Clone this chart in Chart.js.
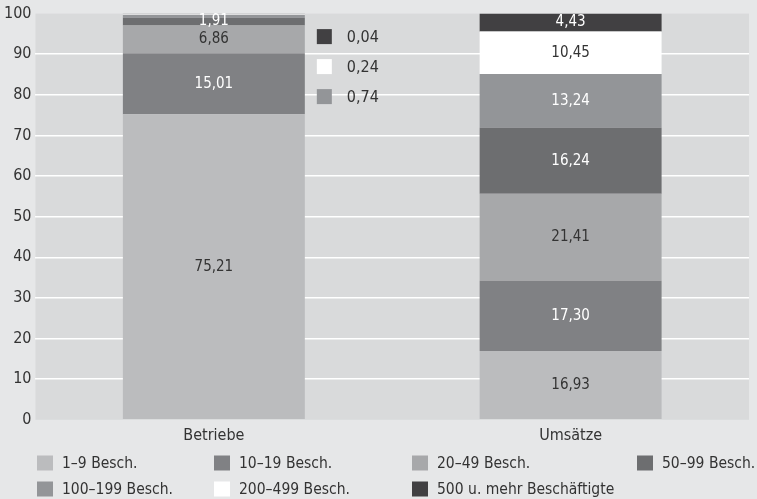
<!DOCTYPE html>
<html>
<head>
<meta charset="utf-8">
<script src="https://cdn.jsdelivr.net/npm/chart.js@4/dist/chart.umd.min.js"></script>
<style>
  html, body { margin: 0; padding: 0; background: #e6e7e8; }
  #wrap { position: relative; width: 757px; height: 499px; }
</style>
</head>
<body>
<div id="wrap"><canvas id="chart" width="757" height="499"></canvas></div>
<script>
// Data
var categories = ["Betriebe", "Umsätze"];
var seriesNames = ["1–9 Besch.", "10–19 Besch.", "20–49 Besch.", "50–99 Besch.",
  "100–199 Besch.", "200–499 Besch.", "500 u. mehr Beschäftigte"];
var s1_9 = [75.21, 16.93];
var s10_19 = [15.01, 17.30];
var s20_49 = [6.86, 21.41];
var s50_99 = [1.91, 16.24];
var s100_199 = [0.74, 13.24];
var s200_499 = [0.24, 10.45];
var s500 = [0.04, 4.43];
var yTicks = [0, 10, 20, 30, 40, 50, 60, 70, 80, 90, 100];

// Styles
var fillColors = ["#bbbcbe", "#808184", "#a7a8aa", "#6d6e70", "#939598", "#ffffff", "#414042"];
var textColors = ["#333333", "#ffffff", "#333333", "#ffffff", "#ffffff", "#333333", "#ffffff"];
var FONT = "'DejaVu Sans Condensed', 'DejaVu Sans', sans-serif";

var allSeries = [s1_9, s10_19, s20_49, s50_99, s100_199, s200_499, s500];

function fmt(v) {
  return v.toFixed(2).replace(".", ",");
}

// plot area background
var bgPlugin = {
  id: "bg",
  beforeDraw: function (chart) {
    var a = chart.chartArea, ctx = chart.ctx;
    ctx.save();
    ctx.fillStyle = "#d9dadb";
    ctx.fillRect(a.left, a.top, a.right - a.left, a.bottom - a.top);
    ctx.restore();
  }
};

// value labels inside bars + small values beside Betriebe
var labelPlugin = {
  id: "labels",
  afterDatasetsDraw: function (chart) {
    var ctx = chart.ctx;
    ctx.save();
    ctx.font = "15px " + FONT;
    ctx.textAlign = "center";
    ctx.textBaseline = "middle";
    chart.data.datasets.forEach(function (ds, i) {
      var meta = chart.getDatasetMeta(i);
      meta.data.forEach(function (bar, j) {
        var v = ds.data[j];
        if (v < 1.5) return;
        ctx.fillStyle = textColors[i];
        var y = (bar.y + bar.base) / 2;
        ctx.fillText(fmt(v), bar.x, y);
      });
    });

    // side notes for tiny Betriebe segments
    var first = chart.getDatasetMeta(0).data[0];
    var x0 = first.x + first.width / 2 + 12;
    var y0 = chart.chartArea.top + 23;
    var small = [6, 5, 4];
    ctx.font = "16px " + FONT;
    ctx.textAlign = "left";
    small.forEach(function (k, n) {
      var y = y0 + n * 30;
      ctx.fillStyle = fillColors[k];
      ctx.fillRect(x0, y - 7.5, 15, 15);
      ctx.fillStyle = "#333333";
      ctx.fillText(fmt(allSeries[k][0]), x0 + 30, y + 1);
    });
    ctx.restore();
  }
};

// legend in two rows
var legendPlugin = {
  id: "legendGrid",
  afterDraw: function (chart) {
    var ctx = chart.ctx;
    var cols = [37, 214, 412, 637];
    var rows = [463, 489];
    ctx.save();
    ctx.font = "15.5px " + FONT;
    ctx.textAlign = "left";
    ctx.textBaseline = "middle";
    seriesNames.forEach(function (name, i) {
      var x = cols[i % 4], y = rows[Math.floor(i / 4)];
      ctx.fillStyle = fillColors[i];
      ctx.fillRect(x, y - 7.5, 16, 15);
      ctx.fillStyle = "#333333";
      ctx.fillText(name, x + 25, y + 1);
    });
    ctx.restore();
  }
};

var datasets = seriesNames.map(function (name, i) {
  return {
    label: name,
    data: allSeries[i],
    backgroundColor: fillColors[i],
    borderWidth: 0,
    barPercentage: 0.51,
    categoryPercentage: 1
  };
});

new Chart(document.getElementById("chart"), {
  type: "bar",
  data: { labels: categories, datasets: datasets },
  options: {
    responsive: false,
    animation: false,
    layout: { padding: { top: 5, right: 8, bottom: 48, left: 0 } },
    plugins: {
      legend: { display: false },
      tooltip: { enabled: false }
    },
    scales: {
      x: {
        stacked: true,
        grid: { display: false, drawTicks: false },
        border: { display: false },
        ticks: { color: "#333333", font: { family: FONT, size: 16 }, padding: 6 }
      },
      y: {
        stacked: true,
        min: 0,
        max: 100,
        afterBuildTicks: function (axis) {
          axis.ticks = yTicks.map(function (v) { return { value: v }; });
        },
        grid: {
          color: function (c) {
            return (c.tick && (c.tick.value === 0 || c.tick.value === 100)) ? "rgba(0,0,0,0)" : "#ffffff";
          },
          lineWidth: 1.5,
          drawTicks: false
        },
        border: { display: false },
        ticks: { color: "#333333", font: { family: FONT, size: 16 }, padding: 4 }
      }
    }
  },
  plugins: [bgPlugin, labelPlugin, legendPlugin]
});
</script>
</body>
</html>
